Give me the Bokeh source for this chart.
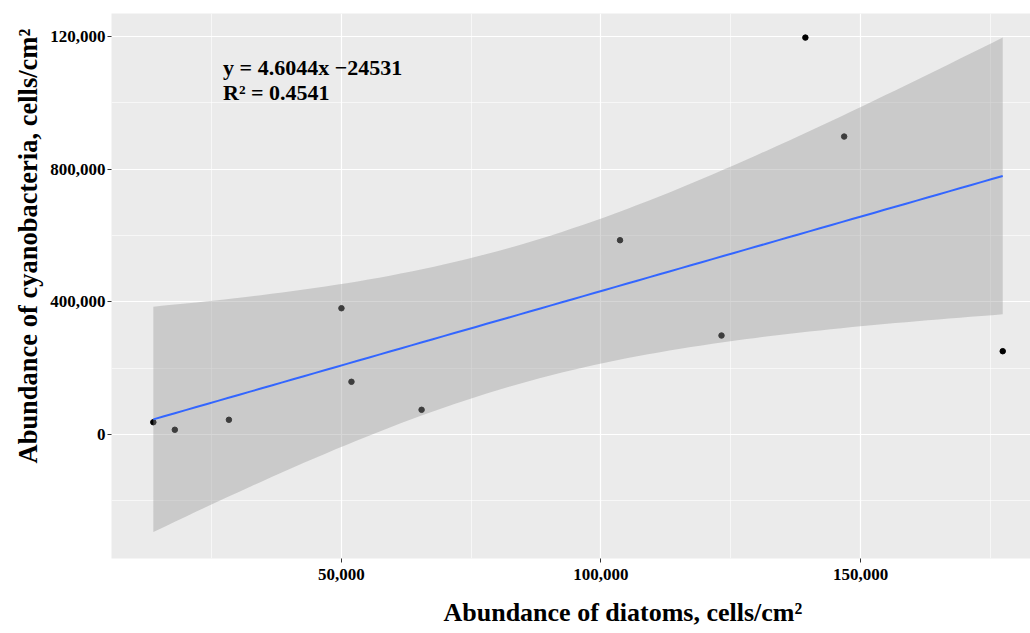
import numpy as np
from bokeh.plotting import figure
from bokeh.models import FixedTicker, NumeralTickFormatter, Label, Range1d, Title
from bokeh.embed import file_html
from bokeh.resources import INLINE

# Data (cells/cm2)
diatoms = [13760, 17900, 28320, 50000, 51930, 65440, 103670, 123220, 177400, 139380, 146850]
cyanobacteria = [37000, 14200, 44300, 380700, 158900, 74400, 585700, 298400, 251100, 1196700, 898300]

x_ticks = [50000, 100000, 150000]
x_minor = [25000, 75000, 125000, 175000]
y_ticks = [0, 400000, 800000, 1200000]
y_minor = [-200000, 200000, 600000, 1000000]
y_labels = {0: "0", 400000: "400,000", 800000: "800,000", 1200000: "120,000"}

x_title = "Abundance of diatoms, cells/cm\u00b2"
y_title = "Abundance of cyanobacteria, cells/cm\u00b2"
eq_line1 = "y = 4.6044x \u221224531"
eq_line2 = "R\u00b2 = 0.4541"

# Linear fit with 95% confidence band (as ggplot geom_smooth(method="lm"))
xa = np.array(diatoms, dtype=float)
ya = np.array(cyanobacteria, dtype=float)
n = len(xa)
slope, intercept = np.polyfit(xa, ya, 1)
resid = ya - (slope * xa + intercept)
s = np.sqrt(np.sum(resid ** 2) / (n - 2))
sxx = np.sum((xa - xa.mean()) ** 2)
t975 = 2.262157  # t quantile, df = n - 2 = 9
xs = np.linspace(xa.min(), xa.max(), 80)
fit = slope * xs + intercept
se = s * np.sqrt(1.0 / n + (xs - xa.mean()) ** 2 / sxx)
lower = fit - t975 * se
upper = fit + t975 * se

FONT = "Liberation Serif"

p = figure(width=1030, height=633,
           x_range=Range1d(5700, 182750), y_range=Range1d(-373900, 1269300),
           output_backend="svg", toolbar_location=None,
           min_border_left=111, min_border_top=13, min_border_right=0, min_border_bottom=75,
           background_fill_color="#EBEBEB", border_fill_color="white",
           outline_line_color=None)

p.scatter(diatoms, cyanobacteria, size=5.5, color="black")
p.varea(x=xs, y1=lower, y2=upper, fill_color="#999999", fill_alpha=0.4)
p.line(xs, fit, line_color="#3366FF", line_width=2)

p.xaxis.ticker = FixedTicker(ticks=x_ticks, minor_ticks=x_minor)
p.yaxis.ticker = FixedTicker(ticks=y_ticks, minor_ticks=y_minor)
p.xaxis.formatter = NumeralTickFormatter(format="0,0")
p.yaxis.major_label_overrides = y_labels

for ax in (p.xaxis[0], p.yaxis[0]):
    ax.axis_line_color = None
    ax.major_tick_line_color = "#333333"
    ax.major_tick_in = 0
    ax.major_tick_out = 4
    ax.minor_tick_line_color = None
    ax.major_label_text_font = FONT
    ax.major_label_text_font_style = "bold"
    ax.major_label_text_font_size = "17px"
    ax.major_label_text_color = "black"

p.xaxis.major_label_standoff = 6
p.yaxis.major_label_standoff = 2
# small blank spacer below the x tick labels, so the title sits lower
p.xaxis.axis_label = "\u00a0"
p.xaxis.axis_label_text_font_size = "11px"
p.xaxis.axis_label_standoff = 0

for g in (p.xgrid[0], p.ygrid[0]):
    g.grid_line_color = "white"
    g.grid_line_width = 1.2
    g.minor_grid_line_color = "white"
    g.minor_grid_line_width = 0.6

# Axis titles (placed as in the reference, off-centre relative to the panel)
p.add_layout(Title(text=x_title, align="left", offset=332, vertical_align="top",
                   text_font=FONT, text_font_style="bold", text_font_size="26px",
                   text_color="black", standoff=0), "below")
p.add_layout(Title(text=y_title, align="left", offset=95, text_font=FONT,
                   text_font_style="bold", text_font_size="26.5px", text_color="black",
                   standoff=10), "left")

p.add_layout(Label(x=27200, y=1106000, text=eq_line1, text_font=FONT,
                   text_font_style="bold", text_font_size="22px", text_color="black",
                   text_baseline="alphabetic"))
p.add_layout(Label(x=27200, y=1031000, text=eq_line2, text_font=FONT,
                   text_font_style="bold", text_font_size="22px", text_color="black",
                   text_baseline="alphabetic"))

open("out.html", "w").write(file_html(p, INLINE))
